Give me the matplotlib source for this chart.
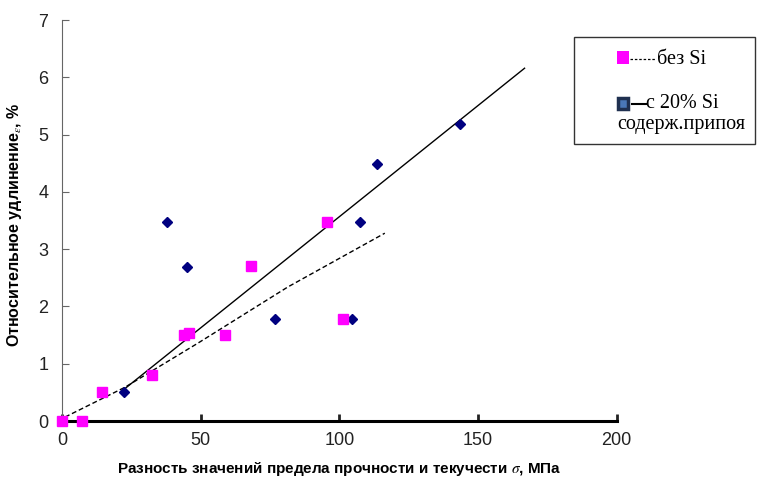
import matplotlib.pyplot as plt
from matplotlib.lines import Line2D
from matplotlib.patches import Rectangle

# без Si
x_no_si = [0, 7.3, 14.3, 32.5, 44.1, 45.8, 58.7, 68.1, 95.7, 101.5]
y_no_si = [0, 0, 0.5, 0.8, 1.5, 1.54, 1.5, 2.7, 3.48, 1.79]

# с 20% Si
x_si = [22.5, 37.8, 45.0, 76.8, 104.7, 107.5, 113.5, 143.4]
y_si = [0.5, 3.48, 2.69, 1.78, 1.78, 3.48, 4.49, 5.18]

# trend lines
trend_si_x = [22.0, 166.8]
trend_si_y = [0.54, 6.16]
trend_no_si_x = [1.1, 22.7, 49.0, 81.4, 116.4]
trend_no_si_y = [0.07, 0.59, 1.36, 2.34, 3.28]

xticks = [0, 50, 100, 150, 200]
yticks = [0, 1, 2, 3, 4, 5, 6, 7]

plt.rcParams['font.family'] = ['Liberation Sans', 'DejaVu Sans']
plt.rcParams['mathtext.fontset'] = 'stix'

fig = plt.figure(figsize=(7.66, 4.79), dpi=100)
ax = fig.add_axes([0.081, 0.121, 0.724, 0.837])

ax.plot(trend_si_x, trend_si_y, color='black', lw=1.0, zorder=2)
ax.plot(trend_no_si_x, trend_no_si_y, color='black', lw=1.0,
        linestyle=(0, (3.5, 2)), zorder=2)
ax.plot(x_si, y_si, linestyle='none', marker='D', markersize=5,
        color='#000080', zorder=3, clip_on=False)
ax.plot(x_no_si, y_no_si, linestyle='none', marker='s', markersize=7,
        color='#FF00FF', zorder=4, clip_on=False)

ax.set_xlim(0, 200)
ax.set_ylim(0, 7)
ax.set_xticks(xticks)
ax.set_yticks(yticks)
ax.tick_params(direction='in', labelsize=13, colors='#222222', length=5)
ax.tick_params(axis='x', pad=8, width=2)
ax.tick_params(axis='y', pad=10, color='#666666')
ax.spines['top'].set_visible(False)
ax.spines['right'].set_visible(False)
ax.spines['bottom'].set_linewidth(2.2)
ax.spines['bottom'].set_color('black')
ax.spines['left'].set_color('#666666')
ax.spines['left'].set_linewidth(0.8)

ax.set_xlabel('Разность значений предела прочности и текучести $\\sigma$, МПа',
              fontsize=11, fontweight='bold', labelpad=8)
ax.set_ylabel('Относительное удлинение$_\\varepsilon$, %',
              fontsize=11.5, fontweight='bold')
ax.yaxis.set_label_coords(-0.068, 0.49)

# legend box drawn by hand (outside the axes, right side)
W, H = 766.0, 479.0
def fx(px):
    return px / W
def fy(py):
    return 1 - py / H

serif = 'Liberation Serif'
fig.patches.append(Rectangle((fx(574), fy(144)), fx(755) - fx(574), fy(37) - fy(144),
                             transform=fig.transFigure, fill=False,
                             edgecolor='#333333', lw=1.0))
fig.patches.append(Rectangle((fx(617), fy(64)), fx(629) - fx(617), fy(51) - fy(64),
                             transform=fig.transFigure, facecolor='#FF00FF',
                             edgecolor='none'))
fig.lines.append(Line2D([fx(630), fx(655)], [fy(59), fy(59)], transform=fig.transFigure,
                        color='black', lw=0.9, linestyle=(0, (2, 1.5))))
fig.text(fx(657), fy(59), 'без Si', fontsize=14.5, family=serif,
         va='center', ha='left')
fig.patches.append(Rectangle((fx(618), fy(109)), fx(628) - fx(618), fy(98) - fy(109),
                             transform=fig.transFigure, facecolor='#4a78b8',
                             edgecolor='#1f3050', lw=2.5))
fig.lines.append(Line2D([fx(632), fx(647)], [fy(104), fy(104)], transform=fig.transFigure,
                        color='black', lw=1.5))
fig.text(fx(646), fy(104), 'с 20% Si', fontsize=14.5, family=serif,
         va='center', ha='left')
fig.text(fx(617), fy(125), 'содерж.припоя', fontsize=14.5, family=serif,
         va='center', ha='left')

fig.savefig('out.png', dpi=100)
